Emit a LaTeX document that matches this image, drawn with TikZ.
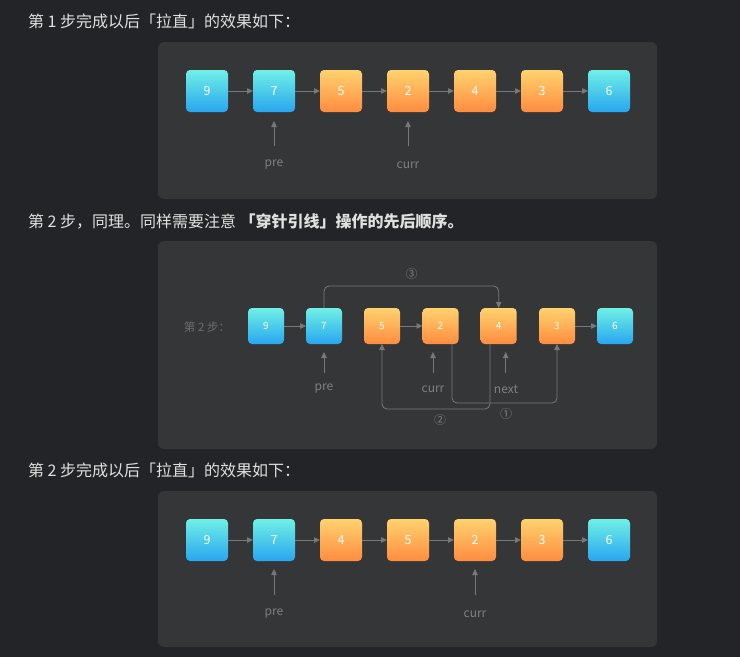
\documentclass[tikz,border=0pt]{standalone}
\usepackage{fontspec}
\setmainfont{Noto Sans CJK SC}
\usetikzlibrary{arrows.meta}
\definecolor{pagebg}{RGB}{35,36,39}
\definecolor{panelbg}{RGB}{53,54,56}
\definecolor{headtext}{RGB}{224,224,224}
\definecolor{linkgray}{RGB}{120,120,120}
\definecolor{labelgray}{RGB}{128,128,128}
\definecolor{cyantop}{RGB}{112,240,230}
\definecolor{cyanbot}{RGB}{40,166,240}
\definecolor{orangetop}{RGB}{255,210,110}
\definecolor{orangebot}{RGB}{255,140,64}
\tikzset{
  heading/.style={inner sep=0pt,outer sep=0pt,anchor=west,text=headtext,font=\fontsize{16}{19}\selectfont},
  panel/.style={fill=panelbg,draw=none,rounded corners=6pt},
  listnode/.style={inner sep=0pt,outer sep=0pt,minimum size=42pt,rounded corners=4pt,text=white,font=\fontsize{12.5}{14}\selectfont},
  smallnode/.style={listnode,minimum size=36pt,font=\fontsize{10}{12}\selectfont},
  bluefill/.style={top color=cyantop,bottom color=cyanbot},
  orangefill/.style={top color=orangetop,bottom color=orangebot},
  link/.style={draw=linkgray,line width=0.8pt,-{Triangle[length=6pt,width=5.5pt]}},
  ptrlabel/.style={inner sep=0pt,text=labelgray,font=\fontsize{12}{14}\selectfont},
  steplabel/.style={inner sep=0pt,text=labelgray!85!black,font=\fontsize{11.5}{13}\selectfont},
}
\begin{document}
\begin{tikzpicture}[x=1pt,y=-1pt]
\path[use as bounding box,fill=pagebg] (0,0) rectangle (740,657);
% step 1 result
\node[heading] (head1) at (28,21) {第 1 步完成以后「拉直」的效果如下：};
\path[panel] (158,42) rectangle (657,199);
\node[listnode,bluefill] (a9) at (207,91) {9};
\node[listnode,bluefill] (a7) at (274,91) {7};
\node[listnode,orangefill] (a5) at (341,91) {5};
\node[listnode,orangefill] (a2) at (408,91) {2};
\node[listnode,orangefill] (a4) at (475,91) {4};
\node[listnode,orangefill] (a3) at (542,91) {3};
\node[listnode,bluefill] (a6) at (609,91) {6};
\draw[link] (a9) -- (a7);
\draw[link] (a7) -- (a5);
\draw[link] (a5) -- (a2);
\draw[link] (a2) -- (a4);
\draw[link] (a4) -- (a3);
\draw[link] (a3) -- (a6);
\coordinate (apreTail) at (274,146);
\coordinate (acurrTail) at (408,146);
\draw[link,shorten >=9pt] (apreTail) -- (a7.south);
\draw[link,shorten >=9pt] (acurrTail) -- (a2.south);
\node[ptrlabel] (apre) at (274,165) {pre};
\node[ptrlabel] (acurr) at (408,165) {curr};
% step 2
\node[heading] (head2) at (28,221) {第 2 步，同理。同样需要注意 \textbf{「穿针引线」操作的先后顺序。}};
\path[panel] (158,241) rectangle (657,449);
\node[steplabel] (stepname) at (207,327) {第 2 步：};
\node[smallnode,bluefill] (b9) at (266,326) {9};
\node[smallnode,bluefill] (b7) at (324,326) {7};
\node[smallnode,orangefill] (b5) at (382,326) {5};
\node[smallnode,orangefill] (b2) at (440.5,326) {2};
\node[smallnode,orangefill] (b4) at (498.7,326) {4};
\node[smallnode,orangefill] (b3) at (557,326) {3};
\node[smallnode,bluefill] (b6) at (615,326) {6};
\draw[link] (b9) -- (b7);
\draw[link] (b5) -- (b2);
\draw[link] (b3) -- (b6);
\draw[link,rounded corners=5pt] ([xshift=11.5pt]b2.south) -- ++(0,59) -| (b3.south);
\draw[link,rounded corners=5pt] ([xshift=-8.7pt]b4.south) -- ++(0,65) -| (b5.south);
\draw[link,rounded corners=5pt] (b7.north) -- ++(0,-22) -| (b4.north);
\node[ptrlabel] (one) at (506,414) {①};
\node[ptrlabel] (two) at (440,420) {②};
\node[ptrlabel] (three) at (411.7,274) {③};
\coordinate (bpreTail) at (324,373);
\coordinate (bcurrTail) at (433,373);
\coordinate (bnextTail) at (505.7,373);
\draw[link,shorten >=8pt] (bpreTail) -- (bpreTail |- b7.south);
\draw[link,shorten >=8pt] (bcurrTail) -- (bcurrTail |- b2.south);
\draw[link,shorten >=8pt] (bnextTail) -- (bnextTail |- b4.south);
\node[ptrlabel] (bpre) at (324,389) {pre};
\node[ptrlabel] (bcurr) at (433,389) {curr};
\node[ptrlabel] (bnext) at (506,389) {next};
% step 2 result
\node[heading] (head3) at (28,470) {第 2 步完成以后「拉直」的效果如下：};
\path[panel] (158,491) rectangle (657,647);
\node[listnode,bluefill] (c9) at (207,540) {9};
\node[listnode,bluefill] (c7) at (274,540) {7};
\node[listnode,orangefill] (c4) at (341,540) {4};
\node[listnode,orangefill] (c5) at (408,540) {5};
\node[listnode,orangefill] (c2) at (475,540) {2};
\node[listnode,orangefill] (c3) at (542,540) {3};
\node[listnode,bluefill] (c6) at (609,540) {6};
\draw[link] (c9) -- (c7);
\draw[link] (c7) -- (c4);
\draw[link] (c4) -- (c5);
\draw[link] (c5) -- (c2);
\draw[link] (c2) -- (c3);
\draw[link] (c3) -- (c6);
\coordinate (cpreTail) at (274,595);
\coordinate (ccurrTail) at (475,595);
\draw[link,shorten >=8pt] (cpreTail) -- (c7.south);
\draw[link,shorten >=8pt] (ccurrTail) -- (c2.south);
\node[ptrlabel] (cpre) at (274,614) {pre};
\node[ptrlabel] (ccurr) at (475,614) {curr};
\end{tikzpicture}
\end{document}
